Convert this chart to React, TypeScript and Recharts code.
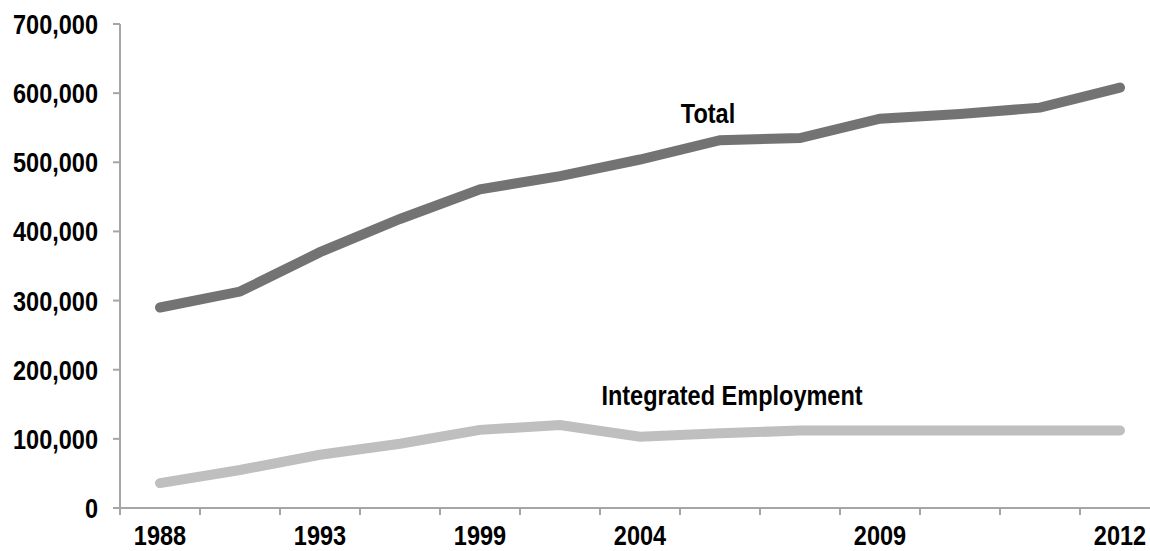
import React from "react";
import { LineChart, Line, XAxis, YAxis, LabelList } from "recharts";

// x positions (only some years are labelled on the axis)
const xLabels = ["1988", "", "1993", "", "1999", "", "2004", "", "", "2009", "", "", "2012"];

// values
const totalValues = [290000, 313000, 370000, 418000, 461000, 480000, 504000, 532000, 535000, 563000, 570000, 579000, 608000];
const integratedValues = [36000, 55000, 77000, 93000, 113000, 120000, 103000, 108000, 112000, 112000, 112000, 112000, 112000];

const yTicks = [0, 100000, 200000, 300000, 400000, 500000, 600000, 700000];

const data = xLabels.map((label, i) => ({
  slot: i,
  label,
  total: totalValues[i],
  integrated: integratedValues[i],
}));

// no condensed font installed, so squeeze Liberation Sans
const FONT = '"Liberation Sans", Arial, sans-serif';
const SQUEEZE = 0.84;
const FS = 28;
const AXIS = "#a6a6a6";
const HALF_STEP = 40;

const fmt = (n: number) => new Intl.NumberFormat("en-US").format(n);

function Squeezed({ x, y, dy, anchor, children }: any) {
  return (
    <text
      transform={`translate(${x},${y}) scale(${SQUEEZE},1)`}
      x={0}
      y={0}
      dy={dy}
      textAnchor={anchor}
      fill="#000"
      fontFamily={FONT}
      fontWeight={700}
      fontSize={FS}
    >
      {children}
    </text>
  );
}

function XTick(props: any) {
  const { x, y, payload } = props;
  const label = xLabels[payload.value];
  return (
    <g>
      <line x1={x - HALF_STEP} x2={x - HALF_STEP} y1={y - 17} y2={y - 10} stroke={AXIS} strokeWidth={2} />
      {label && (
        <Squeezed x={x} y={y} dy="0.71em" anchor="middle">
          {label}
        </Squeezed>
      )}
    </g>
  );
}

function YTick(props: any) {
  const { x, y, payload } = props;
  return (
    <Squeezed x={x} y={y} dy="0.355em" anchor="end">
      {fmt(payload.value)}
    </Squeezed>
  );
}

function seriesLabel(text: string, at: number, dx: number, dy: number) {
  return (props: any) => {
    const { x, y, index } = props;
    if (index !== at) return null;
    return (
      <Squeezed x={x + dx} y={y + dy} anchor="middle">
        {text}
      </Squeezed>
    );
  };
}

export default function App() {
  return (
    <div style={{ position: "absolute", left: 0, top: 0, width: 1150, height: 551, background: "#fff" }}>
      <LineChart width={1150} height={551} data={data} margin={{ top: 24, right: 0, bottom: 0, left: 0 }}>
        <XAxis
          dataKey="slot"
          type="category"
          interval={0}
          padding={{ left: 40, right: 30 }}
          axisLine={{ stroke: AXIS, strokeWidth: 2 }}
          tickLine={false}
          tickSize={0}
          tickMargin={17}
          height={43}
          tick={<XTick />}
        />
        <YAxis
          domain={[0, 700000]}
          ticks={yTicks}
          interval={0}
          width={120}
          axisLine={{ stroke: AXIS, strokeWidth: 2 }}
          tickLine={{ stroke: AXIS, strokeWidth: 2 }}
          tickSize={7}
          tickMargin={15}
          tick={<YTick />}
        />
        <Line
          dataKey="total"
          stroke="#737373"
          strokeWidth={10}
          strokeLinecap="round"
          dot={false}
          isAnimationActive={false}
        >
          <LabelList content={seriesLabel("Total", 6, 68, -37)} />
        </Line>
        <Line
          dataKey="integrated"
          stroke="#bfbfbf"
          strokeWidth={10}
          strokeLinecap="round"
          dot={false}
          isAnimationActive={false}
        >
          <LabelList content={seriesLabel("Integrated Employment", 7, 12, -28)} />
        </Line>
      </LineChart>
    </div>
  );
}
